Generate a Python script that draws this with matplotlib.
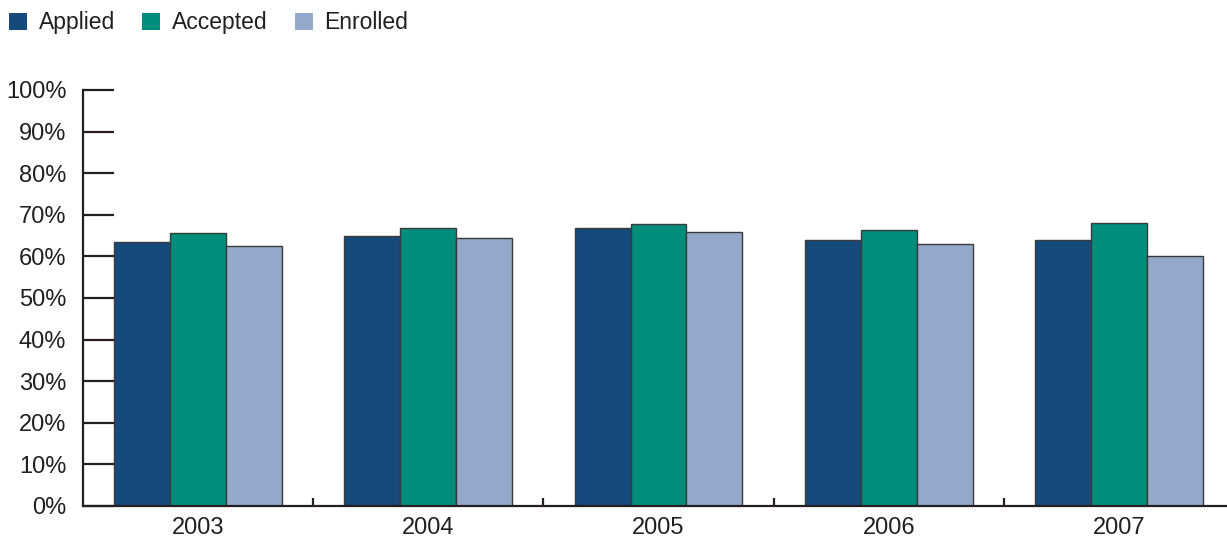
import numpy as np
import matplotlib.pyplot as plt
from matplotlib.patches import Patch

plt.rcParams['font.family'] = ['Liberation Sans', 'DejaVu Sans']

years = ['2003', '2004', '2005', '2006', '2007']
applied = [63.5, 65.0, 66.8, 64.0, 64.0]
accepted = [65.6, 66.8, 67.9, 66.4, 68.1]
enrolled = [62.6, 64.5, 65.8, 63.1, 60.1]

series = [('Applied', applied, '#174a7c'),
          ('Accepted', accepted, '#008e7c'),
          ('Enrolled', enrolled, '#94a9c9')]

ink = '#231f20'
fig = plt.figure(figsize=(12.27, 5.41), dpi=100)
ax = fig.add_axes([83 / 1227, 1 - 506 / 541, 1 - 83 / 1227, (506 - 90) / 541])

x = np.arange(len(years))
w = 0.243
for i, (name, vals, col) in enumerate(series):
    ax.bar(x + (i - 1) * w, vals, width=w, color=col, edgecolor='#3a3a3a', linewidth=1.0)

ax.set_xlim(-0.5, len(years) - 0.5 - 7 / 230)
ax.set_ylim(0, 100)
ax.set_yticks(np.arange(0, 101, 10))
ax.set_yticklabels([f'{v}%' for v in range(0, 101, 10)])
ax.set_xticks(x)
ax.set_xticklabels(years)
ax.set_xticks(x[:-1] + 0.5, minor=True)

for s in ['top', 'right']:
    ax.spines[s].set_visible(False)
for s in ['left', 'bottom']:
    ax.spines[s].set_color(ink)
    ax.spines[s].set_linewidth(1.6)

ax.tick_params(axis='y', direction='in', length=22, width=1.6, color=ink, pad=12,
               labelsize=17, labelcolor=ink)
ax.tick_params(axis='x', which='major', length=0, pad=8, labelsize=17, labelcolor=ink)
ax.tick_params(axis='x', which='minor', direction='in', length=6, width=1.6, color=ink)

handles = [Patch(facecolor=c, edgecolor='none', label=n) for n, _, c in series]
fig.legend(handles=handles, loc='upper left', bbox_to_anchor=(0.0, 1.0 - 2 / 541), ncol=3,
           frameon=False, fontsize=16.5, handlelength=0.78, handleheight=0.78,
           handletextpad=0.5, columnspacing=1.2, borderaxespad=0.2, borderpad=0.2,
           labelcolor=ink)

fig.savefig('out.png', dpi=100)
